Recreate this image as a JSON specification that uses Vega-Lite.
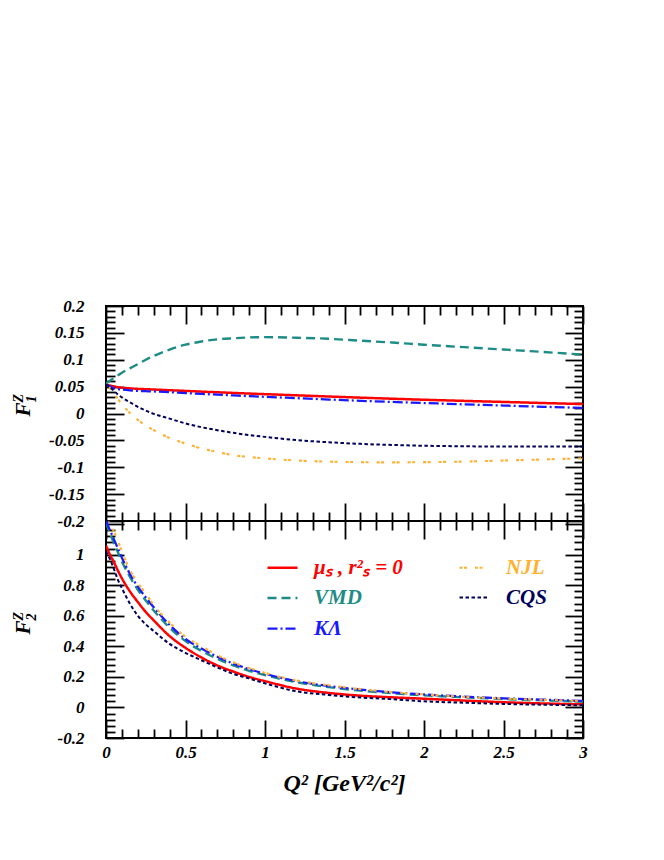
{
  "$schema": "https://vega.github.io/schema/vega-lite/v6.json",
  "background": "white",
  "padding": {"left": 10, "top": 296, "right": 5, "bottom": 5},
  "spacing": 0,
  "bounds": "flush",
  "config": {
    "view": {"stroke": "black", "strokeWidth": 2},
    "font": "Liberation Serif",
    "axis": {
      "grid": false, "domain": false,
      "tickColor": "black", "tickWidth": 1.8,
      "labelFont": "Liberation Serif", "labelFontStyle": "italic", "labelFontWeight": "bold",
      "labelFontSize": 17, "labelColor": "black", "labelOverlap": false, "labelFlush": false,
      "titleFont": "Liberation Serif", "titleFontStyle": "italic", "titleFontWeight": "bold", "titleColor": "black"
    }
  },
  "data": {"values": [
    {"m":"mu","q":0,"f1":0.054,"f2":1.06},{"m":"mu","q":0.025,"f1":0.052,"f2":1.0},{"m":"mu","q":0.05,"f1":0.0505,"f2":0.95},{"m":"mu","q":0.075,"f1":0.049,"f2":0.895},{"m":"mu","q":0.1,"f1":0.048,"f2":0.845},{"m":"mu","q":0.15,"f1":0.0468,"f2":0.76},{"m":"mu","q":0.2,"f1":0.0458,"f2":0.69},{"m":"mu","q":0.25,"f1":0.0452,"f2":0.625},{"m":"mu","q":0.3,"f1":0.0446,"f2":0.57},{"m":"mu","q":0.4,"f1":0.0433,"f2":0.467},{"m":"mu","q":0.5,"f1":0.042,"f2":0.39},{"m":"mu","q":0.6,"f1":0.0407,"f2":0.327},{"m":"mu","q":0.7,"f1":0.0395,"f2":0.275},{"m":"mu","q":0.8,"f1":0.0383,"f2":0.235},{"m":"mu","q":0.9,"f1":0.0371,"f2":0.2},{"m":"mu","q":1.0,"f1":0.036,"f2":0.172},{"m":"mu","q":1.2,"f1":0.0338,"f2":0.123},{"m":"mu","q":1.4,"f1":0.0316,"f2":0.095},{"m":"mu","q":1.6,"f1":0.0295,"f2":0.077},{"m":"mu","q":1.8,"f1":0.0275,"f2":0.066},{"m":"mu","q":2.0,"f1":0.0256,"f2":0.057},{"m":"mu","q":2.25,"f1":0.0235,"f2":0.045},{"m":"mu","q":2.5,"f1":0.0215,"f2":0.034},{"m":"mu","q":2.75,"f1":0.0195,"f2":0.026},{"m":"mu","q":3.0,"f1":0.0175,"f2":0.02},
    {"m":"VMD","q":0,"f1":0.056,"f2":1.21},{"m":"VMD","q":0.025,"f1":0.061,"f2":1.14},{"m":"VMD","q":0.05,"f1":0.066,"f2":1.075},{"m":"VMD","q":0.075,"f1":0.071,"f2":1.015},{"m":"VMD","q":0.1,"f1":0.076,"f2":0.955},{"m":"VMD","q":0.15,"f1":0.084,"f2":0.855},{"m":"VMD","q":0.2,"f1":0.092,"f2":0.77},{"m":"VMD","q":0.25,"f1":0.1,"f2":0.7},{"m":"VMD","q":0.3,"f1":0.107,"f2":0.635},{"m":"VMD","q":0.4,"f1":0.119,"f2":0.522},{"m":"VMD","q":0.5,"f1":0.128,"f2":0.434},{"m":"VMD","q":0.6,"f1":0.134,"f2":0.37},{"m":"VMD","q":0.7,"f1":0.138,"f2":0.318},{"m":"VMD","q":0.8,"f1":0.14,"f2":0.275},{"m":"VMD","q":0.9,"f1":0.1415,"f2":0.24},{"m":"VMD","q":1.0,"f1":0.142,"f2":0.211},{"m":"VMD","q":1.2,"f1":0.141,"f2":0.165},{"m":"VMD","q":1.4,"f1":0.139,"f2":0.133},{"m":"VMD","q":1.6,"f1":0.1355,"f2":0.11},{"m":"VMD","q":1.8,"f1":0.132,"f2":0.093},{"m":"VMD","q":2.0,"f1":0.128,"f2":0.079},{"m":"VMD","q":2.25,"f1":0.1235,"f2":0.066},{"m":"VMD","q":2.5,"f1":0.119,"f2":0.055},{"m":"VMD","q":2.75,"f1":0.1145,"f2":0.046},{"m":"VMD","q":3.0,"f1":0.1095,"f2":0.039},
    {"m":"KL","q":0,"f1":0.054,"f2":1.22},{"m":"KL","q":0.025,"f1":0.05,"f2":1.16},{"m":"KL","q":0.05,"f1":0.047,"f2":1.1},{"m":"KL","q":0.075,"f1":0.0455,"f2":1.04},{"m":"KL","q":0.1,"f1":0.0445,"f2":0.98},{"m":"KL","q":0.15,"f1":0.043,"f2":0.875},{"m":"KL","q":0.2,"f1":0.042,"f2":0.79},{"m":"KL","q":0.25,"f1":0.0415,"f2":0.72},{"m":"KL","q":0.3,"f1":0.041,"f2":0.655},{"m":"KL","q":0.4,"f1":0.0395,"f2":0.54},{"m":"KL","q":0.5,"f1":0.038,"f2":0.448},{"m":"KL","q":0.6,"f1":0.0365,"f2":0.385},{"m":"KL","q":0.7,"f1":0.035,"f2":0.332},{"m":"KL","q":0.8,"f1":0.0336,"f2":0.287},{"m":"KL","q":0.9,"f1":0.0322,"f2":0.251},{"m":"KL","q":1.0,"f1":0.031,"f2":0.22},{"m":"KL","q":1.2,"f1":0.0285,"f2":0.172},{"m":"KL","q":1.4,"f1":0.026,"f2":0.14},{"m":"KL","q":1.6,"f1":0.0237,"f2":0.117},{"m":"KL","q":1.8,"f1":0.0215,"f2":0.099},{"m":"KL","q":2.0,"f1":0.0195,"f2":0.085},{"m":"KL","q":2.25,"f1":0.017,"f2":0.071},{"m":"KL","q":2.5,"f1":0.0148,"f2":0.06},{"m":"KL","q":2.75,"f1":0.0125,"f2":0.051},{"m":"KL","q":3.0,"f1":0.0105,"f2":0.043},
    {"m":"NJL","q":0,"f1":0.055,"f2":1.26},{"m":"NJL","q":0.025,"f1":0.047,"f2":1.21},{"m":"NJL","q":0.05,"f1":0.038,"f2":1.15},{"m":"NJL","q":0.075,"f1":0.027,"f2":1.09},{"m":"NJL","q":0.1,"f1":0.017,"f2":1.02},{"m":"NJL","q":0.15,"f1":0.001,"f2":0.9},{"m":"NJL","q":0.2,"f1":-0.012,"f2":0.815},{"m":"NJL","q":0.25,"f1":-0.022,"f2":0.745},{"m":"NJL","q":0.3,"f1":-0.031,"f2":0.67},{"m":"NJL","q":0.4,"f1":-0.0455,"f2":0.555},{"m":"NJL","q":0.5,"f1":-0.0558,"f2":0.462},{"m":"NJL","q":0.6,"f1":-0.065,"f2":0.4},{"m":"NJL","q":0.7,"f1":-0.0715,"f2":0.342},{"m":"NJL","q":0.8,"f1":-0.0775,"f2":0.295},{"m":"NJL","q":0.9,"f1":-0.081,"f2":0.258},{"m":"NJL","q":1.0,"f1":-0.0835,"f2":0.226},{"m":"NJL","q":1.2,"f1":-0.0875,"f2":0.176},{"m":"NJL","q":1.4,"f1":-0.0895,"f2":0.145},{"m":"NJL","q":1.6,"f1":-0.0905,"f2":0.12},{"m":"NJL","q":1.8,"f1":-0.091,"f2":0.1},{"m":"NJL","q":2.0,"f1":-0.0905,"f2":0.085},{"m":"NJL","q":2.25,"f1":-0.0895,"f2":0.07},{"m":"NJL","q":2.5,"f1":-0.0875,"f2":0.058},{"m":"NJL","q":2.75,"f1":-0.0855,"f2":0.05},{"m":"NJL","q":3.0,"f1":-0.0835,"f2":0.042},
    {"m":"CQS","q":0,"f1":0.054,"f2":1.02},{"m":"CQS","q":0.025,"f1":0.049,"f2":0.97},{"m":"CQS","q":0.05,"f1":0.042,"f2":0.905},{"m":"CQS","q":0.075,"f1":0.0353,"f2":0.835},{"m":"CQS","q":0.1,"f1":0.03,"f2":0.78},{"m":"CQS","q":0.15,"f1":0.021,"f2":0.68},{"m":"CQS","q":0.2,"f1":0.0125,"f2":0.6},{"m":"CQS","q":0.25,"f1":0.0055,"f2":0.544},{"m":"CQS","q":0.3,"f1":-0.0006,"f2":0.5},{"m":"CQS","q":0.4,"f1":-0.0095,"f2":0.416},{"m":"CQS","q":0.5,"f1":-0.0185,"f2":0.357},{"m":"CQS","q":0.6,"f1":-0.0255,"f2":0.309},{"m":"CQS","q":0.7,"f1":-0.031,"f2":0.262},{"m":"CQS","q":0.8,"f1":-0.036,"f2":0.22},{"m":"CQS","q":0.9,"f1":-0.04,"f2":0.19},{"m":"CQS","q":1.0,"f1":-0.0435,"f2":0.158},{"m":"CQS","q":1.2,"f1":-0.0495,"f2":0.105},{"m":"CQS","q":1.4,"f1":-0.0535,"f2":0.082},{"m":"CQS","q":1.6,"f1":-0.0565,"f2":0.065},{"m":"CQS","q":1.8,"f1":-0.0585,"f2":0.054},{"m":"CQS","q":2.0,"f1":-0.06,"f2":0.04},{"m":"CQS","q":2.25,"f1":-0.061,"f2":0.031},{"m":"CQS","q":2.5,"f1":-0.0615,"f2":0.023},{"m":"CQS","q":2.75,"f1":-0.0615,"f2":0.018},{"m":"CQS","q":3.0,"f1":-0.0615,"f2":0.014}
  ]},
  "vconcat": [
    {
      "width": 477, "height": 215,
      "resolve": {"axis": {"x": "independent", "y": "independent"}},
      "layer": [
        {
          "mark": {"type": "line", "clip": true, "interpolate": "monotone"},
          "encoding": {
            "x": {"field": "q", "type": "quantitative", "scale": {"domain": [0, 3], "nice": false, "zero": false},
                  "axis": {"orient": "bottom", "values": [0,0.5,1,1.5,2,2.5,3], "labels": false, "tickSize": -18, "title": null}},
            "y": {"field": "f1", "type": "quantitative", "scale": {"domain": [-0.2, 0.2], "nice": false, "zero": false},
                  "axis": {"orient": "left", "values": [-0.2,-0.15,-0.1,-0.05,0,0.05,0.1,0.15,0.2], "tickSize": -18, "labelPadding": 40,
                           "labelExpr": "'' + datum.value",
                           "title": "F", "titleFontSize": 21, "titleAngle": 270, "titleX": -77, "titleY": 96, "titleAlign": "right", "titleBaseline": "alphabetic"}},
            "color": {"field": "m", "type": "nominal",
                      "scale": {"domain": ["mu","VMD","KL","NJL","CQS"], "range": ["#ff0000","#1e8c86","#1a1aff","#ffb02e","#00005a"]},
                      "legend": {"orient": "none", "legendX": 160, "legendY": 245, "columns": 2, "columnPadding": 52, "rowPadding": 3.5, "padding": 0,
                                 "title": null, "symbolType": "stroke", "symbolSize": 900, "symbolStrokeWidth": 2.8, "labelOffset": 15,
                                 "labelFont": "Liberation Serif", "labelFontStyle": "italic", "labelFontWeight": "bold", "labelFontSize": 21, "labelLimit": 300,
                                 "labelExpr": "datum.value == 'mu' ? 'μₛ , r²ₛ = 0' : datum.value == 'KL' ? 'KΛ' : datum.value",
                                 "labelColor": {"expr": "datum.value == 'mu' ? '#ff0000' : datum.value == 'NJL' ? '#ffb02e' : datum.value == 'VMD' ? '#1e8c86' : datum.value == 'CQS' ? '#00005a' : '#1a1aff'"}}},
            "strokeDash": {"field": "m", "type": "nominal",
                           "scale": {"domain": ["mu","VMD","KL","NJL","CQS"], "range": [[1,0],[9,5],[10,3,2,3],[3,1.5,3,8],[3.5,2.5]]}},
            "strokeWidth": {"field": "m", "type": "nominal",
                            "scale": {"domain": ["mu","VMD","KL","NJL","CQS"], "range": [2.5,2,2.2,4,4]}, "legend": null}
          }
        },
        {
          "mark": {"type": "point", "opacity": 0},
          "encoding": {
            "x": {"field": "q", "type": "quantitative", "axis": {"orient": "bottom", "values": [0.1,0.2,0.3,0.4,0.6,0.7,0.8,0.9,1.1,1.2,1.3,1.4,1.6,1.7,1.8,1.9,2.1,2.2,2.3,2.4,2.6,2.7,2.8,2.9], "labels": false, "tickSize": -9, "title": null}},
            "y": {"field": "f1", "type": "quantitative", "axis": {"orient": "left", "values": [-0.19,-0.18,-0.17,-0.16,-0.14,-0.13,-0.12,-0.11,-0.09,-0.08,-0.07,-0.06,-0.04,-0.03,-0.02,-0.01,0.01,0.02,0.03,0.04,0.06,0.07,0.08,0.09,0.11,0.12,0.13,0.14,0.16,0.17,0.18,0.19], "labels": false, "tickSize": -9,
                  "title": "Z", "titleFontSize": 14, "titleAngle": 270, "titleX": -84, "titleY": 96, "titleAlign": "left", "titleBaseline": "alphabetic"}}
          }
        },
        {
          "mark": {"type": "point", "opacity": 0},
          "encoding": {
            "x": {"field": "q", "type": "quantitative", "axis": {"orient": "top", "values": [0,0.5,1,1.5,2,2.5,3], "labels": false, "tickSize": -18, "title": null}},
            "y": {"field": "f1", "type": "quantitative", "axis": {"orient": "right", "values": [-0.2,-0.15,-0.1,-0.05,0,0.05,0.1,0.15,0.2], "labels": false, "tickSize": -18,
                  "title": "1", "titleFontSize": 14, "titleAngle": 270, "titleX": -548, "titleY": 96, "titleAlign": "left", "titleBaseline": "alphabetic"}}
          }
        },
        {
          "mark": {"type": "point", "opacity": 0},
          "encoding": {
            "x": {"field": "q", "type": "quantitative", "axis": {"orient": "top", "values": [0.1,0.2,0.3,0.4,0.6,0.7,0.8,0.9,1.1,1.2,1.3,1.4,1.6,1.7,1.8,1.9,2.1,2.2,2.3,2.4,2.6,2.7,2.8,2.9], "labels": false, "tickSize": -9, "title": null}},
            "y": {"field": "f1", "type": "quantitative", "axis": {"orient": "right", "values": [-0.19,-0.18,-0.17,-0.16,-0.14,-0.13,-0.12,-0.11,-0.09,-0.08,-0.07,-0.06,-0.04,-0.03,-0.02,-0.01,0.01,0.02,0.03,0.04,0.06,0.07,0.08,0.09,0.11,0.12,0.13,0.14,0.16,0.17,0.18,0.19], "labels": false, "tickSize": -9, "title": null}}
          }
        }
      ]
    },
    {
      "width": 477, "height": 217,
      "resolve": {"axis": {"x": "independent", "y": "independent"}},
      "layer": [
        {
          "mark": {"type": "line", "clip": true, "interpolate": "monotone"},
          "encoding": {
            "x": {"field": "q", "type": "quantitative", "scale": {"domain": [0, 3], "nice": false, "zero": false},
                  "axis": {"orient": "bottom", "values": [0,0.5,1,1.5,2,2.5,3], "tickSize": -18, "labelPadding": 24, "labelExpr": "'' + datum.value",
                           "title": "Q² [GeV²/c²]", "titleFontSize": 24, "titleX": 238, "titleY": 52, "titleAlign": "center", "titleBaseline": "alphabetic"}},
            "y": {"field": "f2", "type": "quantitative", "scale": {"domain": [-0.2, 1.22], "nice": false, "zero": false},
                  "axis": {"orient": "left", "values": [-0.2,0,0.2,0.4,0.6,0.8,1,1.2], "tickSize": -18, "labelPadding": 40,
                           "labelExpr": "datum.value > 1.1 ? '' : '' + datum.value",
                           "title": "F", "titleFontSize": 21, "titleAngle": 270, "titleX": -77, "titleY": 99, "titleAlign": "right", "titleBaseline": "alphabetic"}},
            "color": {"field": "m", "type": "nominal",
                      "scale": {"domain": ["mu","VMD","KL","NJL","CQS"], "range": ["#ff0000","#1e8c86","#1a1aff","#ffb02e","#00005a"]},
                      "legend": {"orient": "none", "legendX": 160, "legendY": 245, "columns": 2, "columnPadding": 52, "rowPadding": 3.5, "padding": 0,
                                 "title": null, "symbolType": "stroke", "symbolSize": 900, "symbolStrokeWidth": 2.8, "labelOffset": 15,
                                 "labelFont": "Liberation Serif", "labelFontStyle": "italic", "labelFontWeight": "bold", "labelFontSize": 21, "labelLimit": 300,
                                 "labelExpr": "datum.value == 'mu' ? 'μₛ , r²ₛ = 0' : datum.value == 'KL' ? 'KΛ' : datum.value",
                                 "labelColor": {"expr": "datum.value == 'mu' ? '#ff0000' : datum.value == 'NJL' ? '#ffb02e' : datum.value == 'VMD' ? '#1e8c86' : datum.value == 'CQS' ? '#00005a' : '#1a1aff'"}}},
            "strokeDash": {"field": "m", "type": "nominal",
                           "scale": {"domain": ["mu","VMD","KL","NJL","CQS"], "range": [[1,0],[9,5],[10,3,2,3],[3,1.5,3,8],[3.5,2.5]]}},
            "strokeWidth": {"field": "m", "type": "nominal",
                            "scale": {"domain": ["mu","VMD","KL","NJL","CQS"], "range": [2.5,2,2.2,4,4]}, "legend": null}
          }
        },
        {
          "mark": {"type": "point", "opacity": 0},
          "encoding": {
            "x": {"field": "q", "type": "quantitative", "axis": {"orient": "bottom", "values": [0.1,0.2,0.3,0.4,0.6,0.7,0.8,0.9,1.1,1.2,1.3,1.4,1.6,1.7,1.8,1.9,2.1,2.2,2.3,2.4,2.6,2.7,2.8,2.9], "labels": false, "tickSize": -9, "title": null}},
            "y": {"field": "f2", "type": "quantitative", "axis": {"orient": "left", "values": [-0.16,-0.12,-0.08,-0.04,0.04,0.08,0.12,0.16,0.24,0.28,0.32,0.36,0.44,0.48,0.52,0.56,0.64,0.68,0.72,0.76,0.84,0.88,0.92,0.96,1.04,1.08,1.12,1.16], "labels": false, "tickSize": -9,
                  "title": "Z", "titleFontSize": 14, "titleAngle": 270, "titleX": -84, "titleY": 99, "titleAlign": "left", "titleBaseline": "alphabetic"}}
          }
        },
        {
          "mark": {"type": "point", "opacity": 0},
          "encoding": {
            "x": {"field": "q", "type": "quantitative", "axis": {"orient": "top", "values": [0,0.5,1,1.5,2,2.5,3], "labels": false, "tickSize": -18, "title": null}},
            "y": {"field": "f2", "type": "quantitative", "axis": {"orient": "right", "values": [-0.2,0,0.2,0.4,0.6,0.8,1,1.2], "labels": false, "tickSize": -18,
                  "title": "2", "titleFontSize": 14, "titleAngle": 270, "titleX": -548, "titleY": 99, "titleAlign": "left", "titleBaseline": "alphabetic"}}
          }
        },
        {
          "mark": {"type": "point", "opacity": 0},
          "encoding": {
            "x": {"field": "q", "type": "quantitative", "axis": {"orient": "top", "values": [0.1,0.2,0.3,0.4,0.6,0.7,0.8,0.9,1.1,1.2,1.3,1.4,1.6,1.7,1.8,1.9,2.1,2.2,2.3,2.4,2.6,2.7,2.8,2.9], "labels": false, "tickSize": -9, "title": null}},
            "y": {"field": "f2", "type": "quantitative", "axis": {"orient": "right", "values": [-0.16,-0.12,-0.08,-0.04,0.04,0.08,0.12,0.16,0.24,0.28,0.32,0.36,0.44,0.48,0.52,0.56,0.64,0.68,0.72,0.76,0.84,0.88,0.92,0.96,1.04,1.08,1.12,1.16], "labels": false, "tickSize": -9, "title": null}}
          }
        }
      ]
    }
  ]
}
